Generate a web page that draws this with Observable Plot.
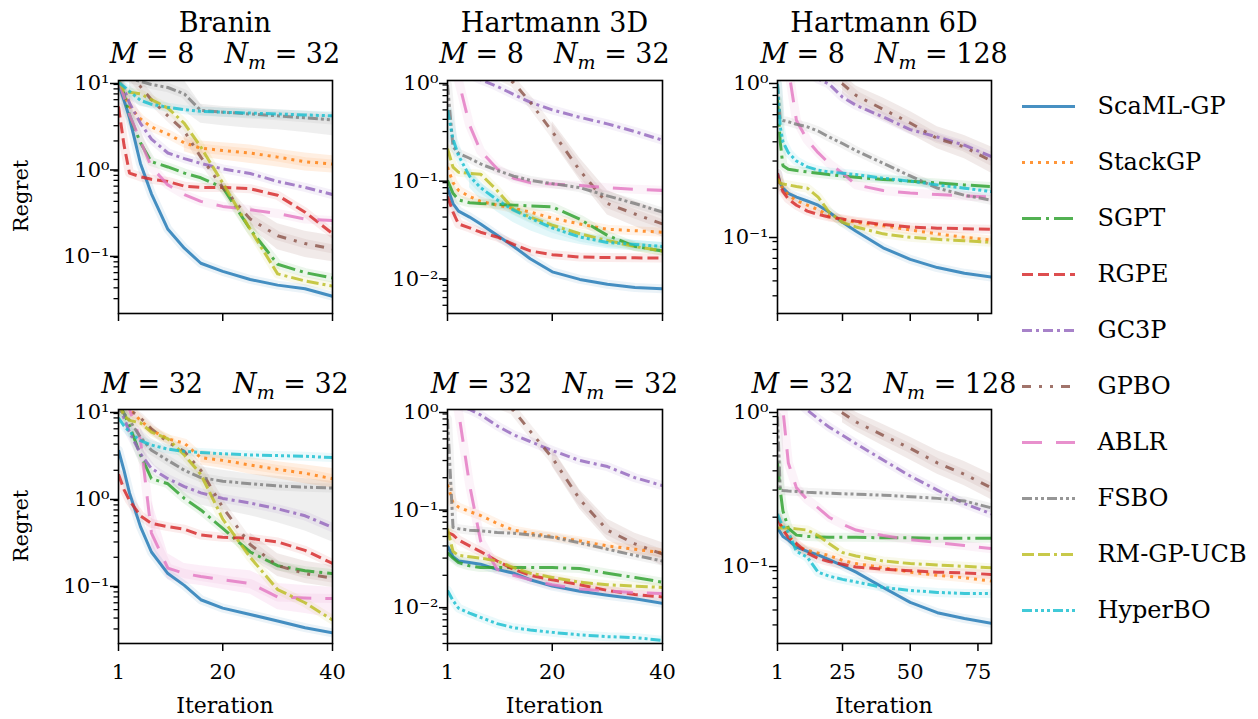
<!DOCTYPE html>
<html><head><meta charset="utf-8">
<script src="https://cdn.jsdelivr.net/npm/d3@7"></script>
<script src="https://cdn.jsdelivr.net/npm/@observablehq/plot@0.6"></script>
<style>
body{margin:0;background:#fff;}
#root{position:relative;width:1258px;height:719px;overflow:hidden;font-family:"DejaVu Serif",serif;background:#fff;}
.pan{position:absolute;}
#overlay{position:absolute;left:0;top:0;pointer-events:none;}
</style></head><body><div id="root"></div>
<script>
// ---------- data ----------
const methods = ["ScaML-GP","StackGP","SGPT","RGPE","GC3P","GPBO","ABLR","FSBO","RM-GP-UCB","HyperBO"];
const colors  = ["#1f77b4","#ff7f0e","#2ca02c","#d62728","#9467bd","#8c564b","#e377c2","#7f7f7f","#bcbd22","#17becf"];
const dashes  = [null,"3,5","19,5,3,5","11,5","10,4,3,4","9,8,3,8,3,8","20,14","10,3,3,3,3,3","12,4,12,4,3,4","10,3,3,3,3,3,3,3"];

const itersShort = [1,2,3,5,7,10,13,16,20,25,30,35,40];
const itersLong  = [1,2,3,5,8,12,16,20,25,30,40,50,60,70,80];

// rows follow the order of `methods`
const braninM8 = [
  [9.2,5.9,3.7,1.1,0.49,0.19,0.115,0.077,0.062,0.05,0.043,0.039,0.032],
  [9,7,5,3.6,2.9,2.4,1.9,1.65,1.55,1.45,1.3,1.15,1.08],
  [9.5,7,4,1.9,1.15,1.0,0.85,0.75,0.58,0.19,0.075,0.06,0.052],
  [5,1.8,0.85,0.77,0.72,0.68,0.6,0.58,0.58,0.56,0.47,0.3,0.17],
  [10,8,5.5,3.2,2.1,1.45,1.25,1.1,0.95,0.84,0.68,0.58,0.48],
  [14,13,12,8.5,6,3.9,2.6,1.3,0.58,0.25,0.16,0.13,0.113],
  [10,6.5,4,2,1.0,0.62,0.48,0.4,0.35,0.32,0.29,0.25,0.24],
  [12,11,10.5,9.8,9,8.3,7,4.5,4.3,4.1,3.9,3.7,3.5],
  [10,7.6,7.3,7,6,4.8,3.2,1.7,0.65,0.19,0.058,0.048,0.042],
  [9.5,8.5,7.5,5.9,5.3,4.9,4.6,4.4,4.3,4.2,4.1,4.0,3.9]
];
const braninM32 = [
  [3.4,2.0,1.1,0.45,0.23,0.13,0.095,0.065,0.052,0.044,0.037,0.031,0.027],
  [12,11,10,7.5,5.8,4.6,4.1,2.8,2.6,2.3,2.05,1.85,1.6],
  [12,9,6.5,3,1.6,1.4,0.95,0.7,0.43,0.23,0.16,0.14,0.13],
  [1.8,1.2,0.9,0.6,0.49,0.45,0.42,0.36,0.34,0.33,0.3,0.24,0.17],
  [12,8,5.5,3.1,2.1,1.6,1.3,1.1,0.95,0.84,0.72,0.6,0.44],
  [12,11,10,8,6,4.2,3.3,2.0,0.75,0.28,0.16,0.13,0.115],
  [12,11,10,4.5,0.38,0.15,0.13,0.12,0.11,0.1,0.07,0.068,0.067],
  [10,9,7.5,4.8,3.4,2.6,2.0,1.65,1.5,1.4,1.32,1.28,1.25],
  [12,8.5,7.5,7,5.5,4.6,3.0,1.8,0.55,0.2,0.085,0.06,0.038],
  [8,6.5,5.5,4.4,3.9,3.5,3.3,3.2,3.1,3.0,2.95,2.9,2.8]
];
const hart3M8 = [
  [0.08,0.055,0.046,0.04,0.034,0.026,0.02,0.015,0.011,0.0092,0.0082,0.0076,0.0074],
  [0.13,0.09,0.075,0.065,0.058,0.053,0.049,0.045,0.039,0.034,0.03,0.029,0.028],
  [0.095,0.07,0.06,0.056,0.055,0.054,0.053,0.052,0.051,0.038,0.026,0.02,0.018],
  [0.065,0.045,0.034,0.031,0.028,0.025,0.021,0.018,0.0165,0.0156,0.0154,0.0153,0.0152],
  [1.5,1.4,1.3,1.15,1.02,0.87,0.72,0.6,0.5,0.42,0.36,0.3,0.245],
  [1.5,1.5,1.5,1.4,1.3,1.15,0.95,0.6,0.3,0.12,0.055,0.043,0.034],
  [1.5,1.3,1.0,0.35,0.19,0.125,0.1,0.09,0.087,0.084,0.08,0.077,0.075],
  [0.9,0.21,0.18,0.16,0.14,0.12,0.105,0.095,0.088,0.08,0.066,0.055,0.045],
  [0.2,0.13,0.115,0.112,0.11,0.075,0.048,0.04,0.033,0.027,0.023,0.02,0.018],
  [0.5,0.25,0.17,0.105,0.08,0.06,0.047,0.039,0.031,0.025,0.022,0.021,0.02]
];
const hart3M32 = [
  [0.04,0.031,0.028,0.027,0.026,0.023,0.021,0.018,0.0155,0.0137,0.0125,0.0115,0.0103],
  [0.17,0.11,0.1,0.09,0.082,0.068,0.058,0.054,0.05,0.045,0.04,0.037,0.034],
  [0.034,0.03,0.027,0.025,0.024,0.024,0.024,0.024,0.024,0.0235,0.021,0.019,0.017],
  [0.055,0.052,0.046,0.04,0.035,0.028,0.023,0.02,0.018,0.016,0.014,0.0127,0.012],
  [1.3,1.2,1.1,1.0,0.88,0.68,0.55,0.47,0.38,0.3,0.26,0.2,0.166],
  [1.5,1.5,1.5,1.4,1.3,1.15,0.98,0.6,0.32,0.12,0.058,0.042,0.033],
  [1.5,1.4,0.95,0.17,0.045,0.023,0.02,0.018,0.016,0.0145,0.0138,0.0133,0.013],
  [0.8,0.062,0.06,0.058,0.057,0.055,0.054,0.052,0.049,0.043,0.037,0.032,0.028],
  [0.06,0.035,0.032,0.031,0.03,0.028,0.024,0.021,0.019,0.017,0.016,0.0155,0.015],
  [0.014,0.011,0.0092,0.0082,0.0074,0.0064,0.0058,0.0055,0.0052,0.0049,0.0047,0.0046,0.0043]
];
const hart6M8 = [
  [0.25,0.215,0.2,0.185,0.175,0.165,0.155,0.14,0.12,0.105,0.082,0.069,0.061,0.056,0.053],
  [0.23,0.21,0.2,0.18,0.166,0.155,0.145,0.132,0.125,0.12,0.114,0.107,0.101,0.096,0.092],
  [0.75,0.4,0.28,0.265,0.26,0.255,0.25,0.245,0.24,0.235,0.228,0.222,0.216,0.21,0.205],
  [0.25,0.21,0.19,0.17,0.155,0.142,0.135,0.13,0.126,0.122,0.116,0.112,0.11,0.109,0.108],
  [1.5,1.5,1.45,1.4,1.3,1.15,1.02,0.95,0.78,0.69,0.58,0.48,0.43,0.38,0.32],
  [1.8,1.7,1.6,1.5,1.4,1.3,1.2,1.08,0.95,0.8,0.65,0.53,0.42,0.37,0.3],
  [1.5,1.5,1.4,1.2,0.55,0.41,0.34,0.29,0.25,0.21,0.193,0.186,0.182,0.178,0.175],
  [0.95,0.56,0.55,0.54,0.52,0.5,0.47,0.43,0.39,0.35,0.29,0.24,0.2,0.18,0.167],
  [0.23,0.215,0.213,0.21,0.205,0.2,0.175,0.14,0.12,0.112,0.101,0.096,0.093,0.091,0.089],
  [0.95,0.5,0.4,0.34,0.3,0.275,0.262,0.255,0.25,0.245,0.232,0.222,0.21,0.2,0.19]
];
const hart6M32 = [
  [0.17,0.16,0.15,0.142,0.128,0.12,0.114,0.106,0.097,0.088,0.07,0.056,0.048,0.044,0.041],
  [0.2,0.18,0.17,0.155,0.13,0.122,0.117,0.113,0.105,0.1,0.094,0.088,0.084,0.081,0.077],
  [0.45,0.3,0.22,0.17,0.153,0.15,0.149,0.148,0.148,0.148,0.147,0.147,0.146,0.146,0.146],
  [0.2,0.18,0.165,0.148,0.135,0.117,0.108,0.103,0.099,0.095,0.092,0.09,0.088,0.087,0.085],
  [1.5,1.45,1.4,1.3,1.15,0.99,0.87,0.77,0.68,0.6,0.47,0.37,0.3,0.245,0.21],
  [1.8,1.7,1.6,1.5,1.4,1.3,1.2,1.07,0.95,0.83,0.68,0.56,0.45,0.38,0.31],
  [1.5,1.4,1.0,0.45,0.31,0.26,0.23,0.2,0.18,0.165,0.152,0.143,0.137,0.131,0.125],
  [0.9,0.3,0.298,0.296,0.294,0.29,0.288,0.286,0.284,0.282,0.278,0.272,0.265,0.255,0.23],
  [0.17,0.17,0.17,0.17,0.168,0.165,0.152,0.135,0.118,0.112,0.104,0.1,0.098,0.096,0.094],
  [0.21,0.19,0.175,0.16,0.12,0.11,0.088,0.083,0.079,0.076,0.07,0.067,0.065,0.064,0.064]
];

// shaded uncertainty bands (the visible ones)
const bandsBraninM8 = [
  {m:"FSBO", x:[3,5,7,10,13,16,20,25,30,35,40], lo:[6,5,4.8,4.6,4.4,3.2,3.0,2.8,2.7,2.5,2.3], hi:[12,12,12,12,10,5.3,5.0,4.8,4.6,4.4,4.2]},
  {m:"StackGP", x:[13,16,20,25,30,35,40], lo:[1.5,1.3,1.2,1.1,1.0,0.9,0.85], hi:[2.3,2.0,1.9,1.8,1.6,1.45,1.35]},
  {m:"GPBO", x:[25,30,35,40], lo:[0.2,0.11,0.09,0.08], hi:[0.35,0.22,0.18,0.16]}
];
const bandsBraninM32 = [
  {m:"FSBO", x:[5,7,10,13,16,20,25,30,35,40], lo:[3.5,2.4,1.6,1.0,0.8,0.7,0.6,0.5,0.4,0.3], hi:[6,4.6,3.6,2.8,2.2,2.0,1.8,1.7,1.6,1.5]},
  {m:"StackGP", x:[16,20,25,30,35,40], lo:[2.3,2.1,1.8,1.6,1.4,1.25], hi:[3.4,3.1,2.8,2.5,2.3,2.1]},
  {m:"ABLR", x:[7,10,13,16,20,25,30,35,40], lo:[0.25,0.11,0.1,0.095,0.085,0.075,0.05,0.045,0.04], hi:[0.9,0.22,0.17,0.16,0.15,0.14,0.1,0.095,0.09]},
  {m:"GPBO", x:[25,30,35,40], lo:[0.2,0.12,0.1,0.09], hi:[0.38,0.22,0.18,0.16]}
];
const bandsHart3M8 = [
  {m:"HyperBO", x:[5,7,10,13,16,20,25,30,35,40], lo:[0.08,0.06,0.045,0.035,0.029,0.024,0.021,0.019,0.018,0.017], hi:[0.12,0.09,0.066,0.052,0.043,0.035,0.028,0.025,0.023,0.022]},
  {m:"GPBO", x:[20,25,30,35,40], lo:[0.24,0.095,0.042,0.032,0.025], hi:[0.38,0.16,0.075,0.058,0.046]}
];
const bandsHart3M32 = [
  {m:"GPBO", x:[20,25,30,35,40], lo:[0.26,0.095,0.046,0.033,0.025], hi:[0.4,0.15,0.075,0.054,0.043]}
];
const bandsHart6M8 = [
  {m:"GPBO", x:[25,30,40,50,60,70,80], lo:[0.82,0.68,0.55,0.45,0.36,0.31,0.25], hi:[1.1,0.92,0.77,0.63,0.5,0.44,0.37]}
];
const bandsHart6M32 = [
  {m:"GPBO", x:[25,30,40,50,60,70,80], lo:[0.82,0.72,0.58,0.47,0.38,0.32,0.26], hi:[1.1,0.96,0.8,0.66,0.54,0.46,0.38]}
];

const xTicksShort = [1,20,40];
const xTicksLong  = [1,25,50,75];
const benchmarks = ["Branin","Hartmann 3D","Hartmann 6D"];
const settingM  = [8,32];
const settingNm = [32,32,128];

// ---------- layout ----------
const panels = [
  {frame:[118,80,332,313],  x:itersShort, values:braninM8,  bands:bandsBraninM8,  xd:[1,40], yd:[0.0202,10],  xt:xTicksShort, showX:false},
  {frame:[447,80,662,313],  x:itersShort, values:hart3M8,   bands:bandsHart3M8,   xd:[1,40], yd:[0.00412,1],  xt:xTicksShort, showX:false},
  {frame:[777,80,991,313],  x:itersLong,  values:hart6M8,   bands:bandsHart6M8,   xd:[1,80], yd:[0.0307,1],   xt:xTicksLong,  showX:false},
  {frame:[118,409,332,643], x:itersShort, values:braninM32, bands:bandsBraninM32, xd:[1,40], yd:[0.0204,10],  xt:xTicksShort, showX:true},
  {frame:[447,409,662,643], x:itersShort, values:hart3M32,  bands:bandsHart3M32,  xd:[1,40], yd:[0.0040,1],   xt:xTicksShort, showX:true},
  {frame:[777,409,991,643], x:itersLong,  values:hart6M32,  bands:bandsHart6M32,  xd:[1,80], yd:[0.0303,1],   xt:xTicksLong,  showX:true}
];

const FONT = '"DejaVu Serif", serif';
const FS = 21;
const ML = 80, MR = 14, MT = 14, MB = 50;
const supMap = {"-":"\u207B","0":"\u2070","1":"\u00B9","2":"\u00B2","3":"\u00B3","4":"\u2074","5":"\u2075","6":"\u2076","7":"\u2077","8":"\u2078","9":"\u2079"};
const fmtPow = d => "10" + String(Math.round(Math.log10(d))).replace(/[-0-9]/g, c => supMap[c]);

const root = document.getElementById("root");

function drawPanel(p) {
  const [x0,y0,x1,y1] = p.frame;
  const W = x1 - x0 + ML + MR, H = y1 - y0 + MT + MB;
  const majors = [], minors = [];
  for (let e = Math.ceil(Math.log10(p.yd[0]) - 1e-9); e <= Math.floor(Math.log10(p.yd[1]) + 1e-9); e++) majors.push(Math.pow(10, e));
  for (let e = Math.floor(Math.log10(p.yd[0])); e <= Math.ceil(Math.log10(p.yd[1])); e++)
    for (let k = 2; k <= 9; k++) { const v = k * Math.pow(10, e); if (v >= p.yd[0] && v <= p.yd[1]) minors.push(v); }
  const marks = [];
  for (const b of p.bands) {
    const i = methods.indexOf(b.m);
    const data = b.x.map((x, j) => ({it: x, lo: b.lo[j], hi: b.hi[j]}));
    marks.push(Plot.areaY(data, {x: "it", y1: "lo", y2: "hi", fill: colors[i], fillOpacity: 0.12, clip: true}));
  }
  const series = methods.map((m, i) => p.x.map((x, j) => ({method: m, it: x, regret: p.values[i][j]})));
  series.forEach((data, i) => marks.push(Plot.line(data, {x: "it", y: "regret", stroke: colors[i], strokeWidth: 9, strokeOpacity: 0.09, clip: true})));
  series.forEach((data, i) => marks.push(Plot.line(data, {x: "it", y: "regret", stroke: colors[i], strokeWidth: 3, strokeOpacity: 0.82, strokeDasharray: dashes[i] || undefined, strokeLinecap: "butt", strokeLinejoin: "round", clip: true})));
  marks.push(Plot.axisY({ticks: minors, tickSize: 4.5, tickFormat: () => "", strokeWidth: 1.3, label: null}));
  marks.push(Plot.axisY({ticks: majors, tickSize: 8, tickPadding: 1, tickFormat: fmtPow, fontSize: FS, strokeWidth: 1.5, label: null, dy: 3}));
  marks.push(Plot.axisX({ticks: p.xt, tickSize: 8, tickPadding: 13, tickFormat: p.showX ? (d => String(d)) : (() => ""), fontSize: FS, strokeWidth: 1.5, label: null}));
  marks.push(Plot.frame({stroke: "black", strokeWidth: 1.6}));
  const svg = Plot.plot({
    width: W, height: H, marginLeft: ML, marginRight: MR, marginTop: MT, marginBottom: MB,
    x: {domain: p.xd}, y: {type: "log", domain: p.yd},
    style: {fontFamily: FONT, fontSize: FS + "px", color: "black", background: "transparent", overflow: "visible"},
    marks
  });
  const div = document.createElement("div");
  div.className = "pan";
  div.style.left = (x0 - ML) + "px";
  div.style.top = (y0 - MT) + "px";
  div.appendChild(svg);
  root.appendChild(div);
}
panels.forEach(drawPanel);

// ---------- legend ----------
{
  const marks = methods.map((m, i) => Plot.ruleY([m], {y: d => d, x1: 0, x2: 1, stroke: colors[i], strokeWidth: 3, strokeOpacity: 0.82, strokeDasharray: dashes[i] || undefined, strokeLinecap: "butt"}));
  marks.push(Plot.text(methods, {x: 1, y: d => d, text: d => d, dx: 22, textAnchor: "start", fontSize: 24, fill: "black"}));
  const svg = Plot.plot({
    width: 243, height: 640, margin: 0,
    x: {domain: [0, 1], range: [7, 60], axis: null},
    y: {type: "point", domain: methods, range: [35, 600], axis: null},
    style: {fontFamily: FONT, background: "transparent", overflow: "visible"},
    marks
  });
  const div = document.createElement("div");
  div.className = "pan";
  div.style.left = "1015px"; div.style.top = "40px";
  div.appendChild(svg);
  root.appendChild(div);
}

// ---------- titles & axis labels ----------
{
  const NS = "http://www.w3.org/2000/svg";
  const svg = document.createElementNS(NS, "svg");
  svg.setAttribute("id", "overlay");
  svg.setAttribute("width", 1258); svg.setAttribute("height", 719);
  const ff = `font-family="DejaVu Serif, serif"`;
  let html = "";
  const cx = [225, 554.5, 884];
  benchmarks.forEach((b, c) => {
    html += `<text ${ff} x="${cx[c]}" y="32" text-anchor="middle" font-size="27">${b}</text>`;
    settingM.forEach((m, r) => {
      const y = r === 0 ? 63 : 393;
      html += `<text ${ff} x="${cx[c]}" y="${y}" text-anchor="middle" font-size="27"><tspan font-style="italic">M</tspan><tspan> = ${m}</tspan><tspan dx="30" font-style="italic">N</tspan><tspan font-style="italic" font-size="19" dy="6">m</tspan><tspan dy="-6"> = ${settingNm[c]}</tspan></text>`;
    });
    html += `<text ${ff} x="${cx[c]}" y="713" text-anchor="middle" font-size="22">Iteration</text>`;
  });
  [196, 526].forEach(y => {
    html += `<text ${ff} transform="translate(28,${y}) rotate(-90)" text-anchor="middle" font-size="21">Regret</text>`;
  });
  svg.innerHTML = html;
  root.appendChild(svg);
}
</script></body></html>
